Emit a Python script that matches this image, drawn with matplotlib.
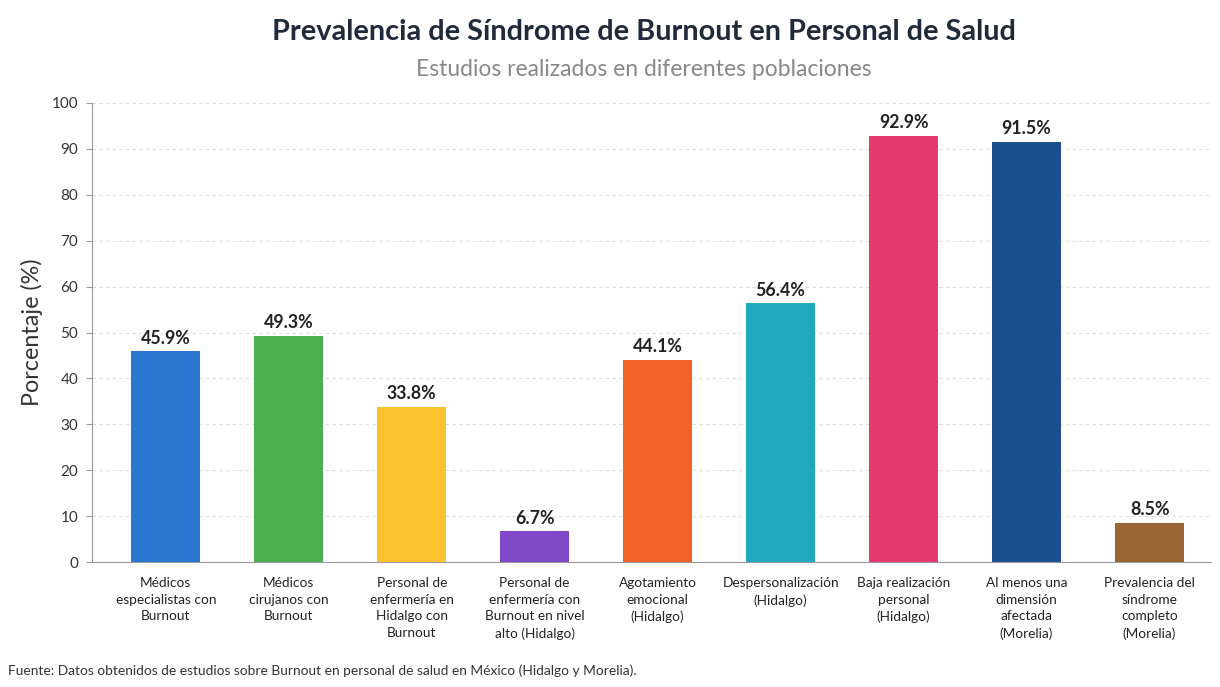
import matplotlib
matplotlib.use("Agg")
import matplotlib.pyplot as plt

categories = [
    "Médicos\nespecialistas con\nBurnout",
    "Médicos\ncirujanos con\nBurnout",
    "Personal de\nenfermería en\nHidalgo con\nBurnout",
    "Personal de\nenfermería con\nBurnout en nivel\nalto (Hidalgo)",
    "Agotamiento\nemocional\n(Hidalgo)",
    "Despersonalización\n(Hidalgo)",
    "Baja realización\npersonal\n(Hidalgo)",
    "Al menos una\ndimensión\nafectada\n(Morelia)",
    "Prevalencia del\nsíndrome\ncompleto\n(Morelia)",
]
values = [45.9, 49.3, 33.8, 6.7, 44.1, 56.4, 92.9, 91.5, 8.5]
colors = ["#2B78D0", "#4CAF50", "#FBC230", "#7E48C8", "#F26225",
          "#20A9BF", "#E53A6F", "#1B4F8F", "#9A6535"]
yticks = [0, 10, 20, 30, 40, 50, 60, 70, 80, 90, 100]

plt.rcParams['font.family'] = ['Lato', 'DejaVu Sans']

fig = plt.figure(figsize=(12.2, 6.87), dpi=100)
fig.patch.set_facecolor("white")
ax = fig.add_axes([92/1220, 1-562/687, (1211-92)/1220, (562-103)/687])

x = list(range(len(values)))
ax.bar(x, values, width=0.56, color=colors, zorder=3)
for xi, v in zip(x, values):
    ax.text(xi, v + 1.0, f"{v}%", ha="center", va="bottom", fontsize=12.8,
            fontweight="bold", color="#222222", zorder=4)

ax.set_xlim(-0.6, 8.5)
ax.set_ylim(0, 100)
ax.set_yticks(yticks)
ax.set_yticklabels([str(t) for t in yticks], fontsize=11, color="#333333")
ax.set_xticks(x)
ax.set_xticklabels(categories, fontsize=9.8, color="#222222", linespacing=1.45)
ax.tick_params(axis="x", length=0, pad=11)
ax.tick_params(axis="y", length=4, color="#999999", pad=6)
ax.yaxis.grid(True, linestyle=(0, (3, 3)), color="#DDDDDD", linewidth=0.8, zorder=0)
ax.set_axisbelow(True)
for s in ["top", "right"]:
    ax.spines[s].set_visible(False)
ax.spines["left"].set_color("#999999")
ax.spines["bottom"].set_color("#999999")
ax.set_ylabel("Porcentaje (%)", fontsize=16.8, color="#333333", labelpad=6)

fig.text(0.528, 1-32/687, "Prevalencia de Síndrome de Burnout en Personal de Salud",
         ha="center", va="center", fontsize=20.8, fontweight="bold", color="#1F2A3A")
fig.text(0.528, 1-69/687, "Estudios realizados en diferentes poblaciones",
         ha="center", va="center", fontsize=16.5, color="#888888")
fig.text(8/1220, 1-671/687,
         "Fuente: Datos obtenidos de estudios sobre Burnout en personal de salud en México (Hidalgo y Morelia).",
         ha="left", va="center", fontsize=9.9, color="#333333")

fig.savefig("out.png", dpi=100)
